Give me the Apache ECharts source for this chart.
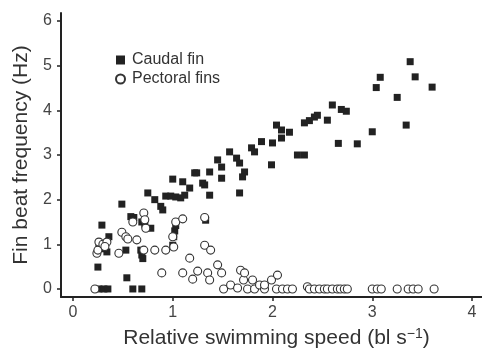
<!DOCTYPE html>
<html>
<head>
<meta charset="utf-8">
<script src="https://cdn.jsdelivr.net/npm/echarts@6/dist/echarts.min.js"></script>
<style>
html,body{margin:0;padding:0;background:#fff;}
#main{width:482px;height:350px;}
</style>
</head>
<body>
<div id="main"></div>
<script>
// caudal fin beat frequency vs relative speed
var caudal=[
 [0.26,0],[0.31,0],[0.35,0],[0.6,0],[0.69,0],
 [0.25,0.49],[0.54,0.25],
 [0.26,0.94],[0.34,0.83],[0.3,0.9],[0.36,1.17],[0.29,1.43],
 [0.53,0.87],[0.68,0.87],[0.69,0.76],[0.7,0.68],
 [0.49,1.9],[0.58,1.62],[0.61,1.6],[0.69,1.5],[0.72,1.45],[0.78,1.36],
 [0.75,2.15],[0.82,2.0],[0.9,1.77],[0.88,1.85],
 [0.93,2.08],[0.98,2.08],[1.03,2.06],[1.08,2.04],[1.12,2.1],
 [1.0,2.46],[1.1,2.4],[1.22,2.6],[1.17,2.26],[1.24,2.6],[1.3,2.37],[1.32,2.33],
 [1.37,2.1],[1.37,2.62],[1.45,2.89],[1.49,2.73],[1.49,2.48],
 [1.0,0.98],[1.01,1.17],[1.02,1.3],[1.03,1.42],[1.33,1.54],
 [1.57,3.07],[1.64,2.93],[1.67,2.82],[1.72,2.62],[1.7,2.51],[1.67,2.15],
 [1.79,3.16],[1.82,3.07],[1.89,3.3],[2.0,3.27],[1.99,2.78],
 [2.04,3.67],[2.09,3.56],[2.09,3.38],[2.17,3.51],
 [2.25,3.0],[2.32,3.0],[2.32,3.72],[2.37,3.77],[2.42,3.85],[2.45,3.89],
 [2.55,3.78],[2.6,4.12],[2.69,4.02],[2.74,3.98],
 [2.66,3.26],[2.85,3.25],[3.0,3.52],[3.34,3.67],[3.25,4.29],
 [3.04,4.51],[3.08,4.74],[3.43,4.75],[3.38,5.09],[3.6,4.52]
];
// pectoral fins beat frequency vs relative speed
var pectoral=[
 [0.22,0],[0.24,0.8],[0.25,0.87],[0.26,1.05],[0.3,1.0],[0.34,1.05],[0.32,0.95],
 [0.46,0.8],[0.49,1.27],[0.53,1.17],[0.55,1.12],[0.6,1.5],[0.64,1.1],
 [0.71,1.7],[0.73,1.36],[0.72,1.55],
 [0.71,0.87],[0.82,0.87],[0.93,0.87],[0.89,0.36],[1.01,0.94],[1.0,1.17],[1.03,1.5],[1.1,1.57],
 [1.17,0.69],[1.1,0.36],[1.2,0.22],[1.25,0.4],[1.32,1.6],[1.32,0.98],[1.38,0.87],[1.35,0.36],[1.37,0.2],
 [1.45,0.54],[1.49,0.36],[1.51,0],[1.58,0.09],[1.65,0.02],[1.68,0.42],[1.71,0.2],[1.72,0.36],
 [1.75,0],[1.8,0.2],[1.82,0],[1.87,0.09],[1.92,0],[1.92,0.09],[1.99,0.2],[2.05,0.31],
 [2.04,0],[2.1,0],[2.15,0],[2.2,0],
 [2.35,0.05],[2.37,0],[2.42,0],[2.47,0],[2.52,0],[2.55,0],[2.6,0],[2.65,0],[2.68,0],[2.72,0],[2.75,0],
 [3.0,0],[3.05,0],[3.09,0],[3.25,0],[3.36,0],[3.41,0],[3.46,0],[3.62,0]
];
var xTicks=[0,1,2,3,4];
var yTicks=[0,1,2,3,4,5,6];

var font='"Liberation Sans", Arial, sans-serif';
var ink='#222';
var chart=echarts.init(document.getElementById('main'));
var option={
  animation:false,
  textStyle:{fontFamily:font},
  grid:{left:61,right:0,top:13,bottom:53,containLabel:false,outerBoundsMode:'none'},
  legend:{
    orient:'vertical',left:110,top:47,itemGap:3,itemWidth:9,itemHeight:9,
    textStyle:{fontSize:16,color:'#333',fontFamily:font,padding:[0,0,0,2]},
    data:[{name:'Caudal fin',icon:'rect'},{name:'Pectoral fins',icon:'circle'}]
  },
  xAxis:{
    type:'value',min:-0.12,max:4.1,
    name:'Relative swimming speed (bl s{sup|\u22121})',
    nameLocation:'middle',nameGap:30,
    nameTextStyle:{fontSize:21,color:'#333',fontFamily:font,padding:[0,0,0,10],
      rich:{sup:{fontSize:14,color:'#333',verticalAlign:'top',padding:[0,0,9,0]}}},
    axisLine:{onZero:false,lineStyle:{color:ink,width:2}},
    axisTick:{customValues:xTicks,length:4,lineStyle:{color:ink,width:1.5}},
    axisLabel:{customValues:xTicks,fontSize:16,color:'#444',margin:8},
    splitLine:{show:false}
  },
  yAxis:{
    type:'value',min:-0.18,max:6.18,
    name:'Fin beat frequency (Hz)',
    nameLocation:'middle',nameGap:29,
    nameTextStyle:{fontSize:21,color:'#333',fontFamily:font},
    axisLine:{show:true,onZero:false,lineStyle:{color:ink,width:2}},
    axisTick:{show:true,customValues:yTicks,length:4,lineStyle:{color:ink,width:1.5}},
    axisLabel:{customValues:yTicks,fontSize:16,color:'#444',margin:9},
    splitLine:{show:false}
  },
  series:[
    {name:'Caudal fin',type:'scatter',symbol:'rect',symbolSize:7,
     itemStyle:{color:ink,opacity:1},data:caudal},
    {name:'Pectoral fins',type:'scatter',symbol:'circle',symbolSize:8,
     itemStyle:{color:'#fff',borderColor:'#333',borderWidth:1.1,opacity:1},data:pectoral}
  ]
};
chart.setOption(option);
</script>
</body>
</html>
